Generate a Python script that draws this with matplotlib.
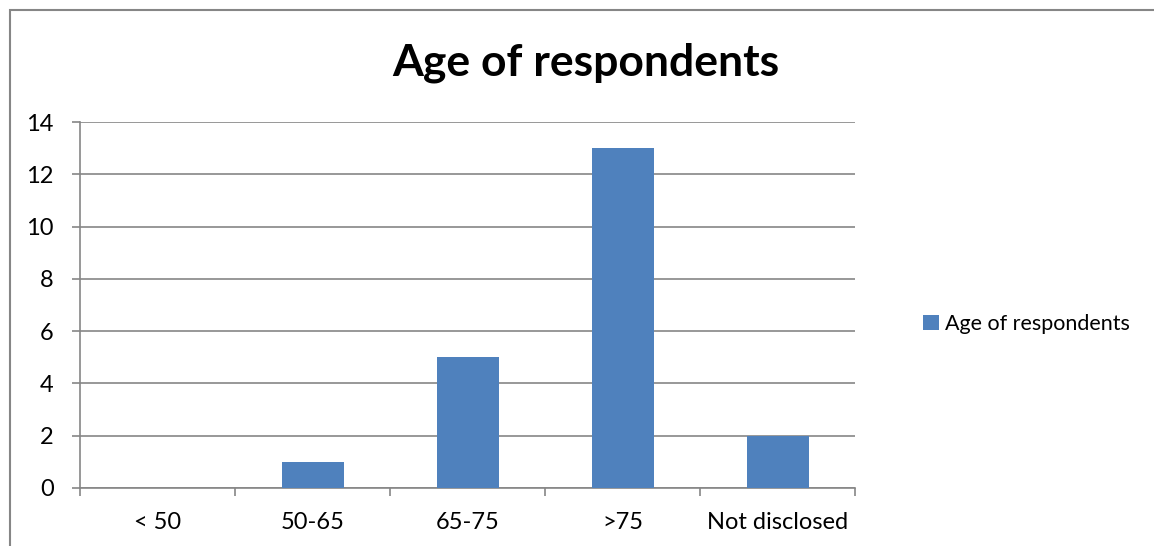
import numpy as np
import matplotlib
matplotlib.use("Agg")
import matplotlib.pyplot as plt
from matplotlib.patches import Rectangle

# Data
categories = ["< 50", "50-65", "65-75", ">75", "Not disclosed"]
counts = [0, 1, 5, 13, 2]
series_name = "Age of respondents"
y_ticks = [0, 2, 4, 6, 8, 10, 12, 14]

bar_colour = "#4F81BD"
line_colour = "#868686"

plt.rcParams['font.family'] = ['Lato', 'DejaVu Sans']

fig = plt.figure(figsize=(11.54, 5.46), dpi=100)
ax = fig.add_axes([80 / 1154, 1 - 488 / 546, 775 / 1154, 366 / 546])

x = np.arange(len(categories))
ax.bar(x, counts, width=0.4, color=bar_colour, label=series_name, zorder=3)

ax.set_xlim(-0.5, len(categories) - 0.5)
ax.set_ylim(0, 14)
ax.set_yticks(y_ticks)
ax.set_xticks(x)
ax.set_xticklabels(categories)
# tick marks between categories
ax.set_xticks(np.arange(len(categories) + 1) - 0.5, minor=True)
ax.tick_params(axis='x', which='major', length=0, pad=17, labelsize=17)
ax.tick_params(axis='x', which='minor', length=6, width=1.2, color=line_colour)
ax.tick_params(axis='y', length=6, width=1.2, color=line_colour, pad=13, labelsize=17)

ax.grid(axis='y', color=line_colour, linewidth=1.2, zorder=0)
ax.set_axisbelow(True)
for side in ["top", "right"]:
    ax.spines[side].set_visible(False)
for side in ["left", "bottom"]:
    ax.spines[side].set_color(line_colour)
    ax.spines[side].set_linewidth(1.2)

fig.text(586 / 1154, 1 - 63 / 546, "Age of respondents", ha='center', va='center',
         fontsize=32, fontweight='bold')

fig.legend(loc='center left', bbox_to_anchor=(914 / 1154, 1 - 324 / 546),
           frameon=False, fontsize=15.5, handlelength=0.75, handleheight=0.75,
           handletextpad=0.3, borderaxespad=0)

# outer chart frame (cropped at right and bottom)
fig.patches.append(Rectangle((10 / 1154, -0.1), 1.2, 1.1 - 10 / 546,
                             transform=fig.transFigure, fill=False,
                             edgecolor=line_colour, linewidth=1.5))

fig.savefig("out.png", dpi=100)
